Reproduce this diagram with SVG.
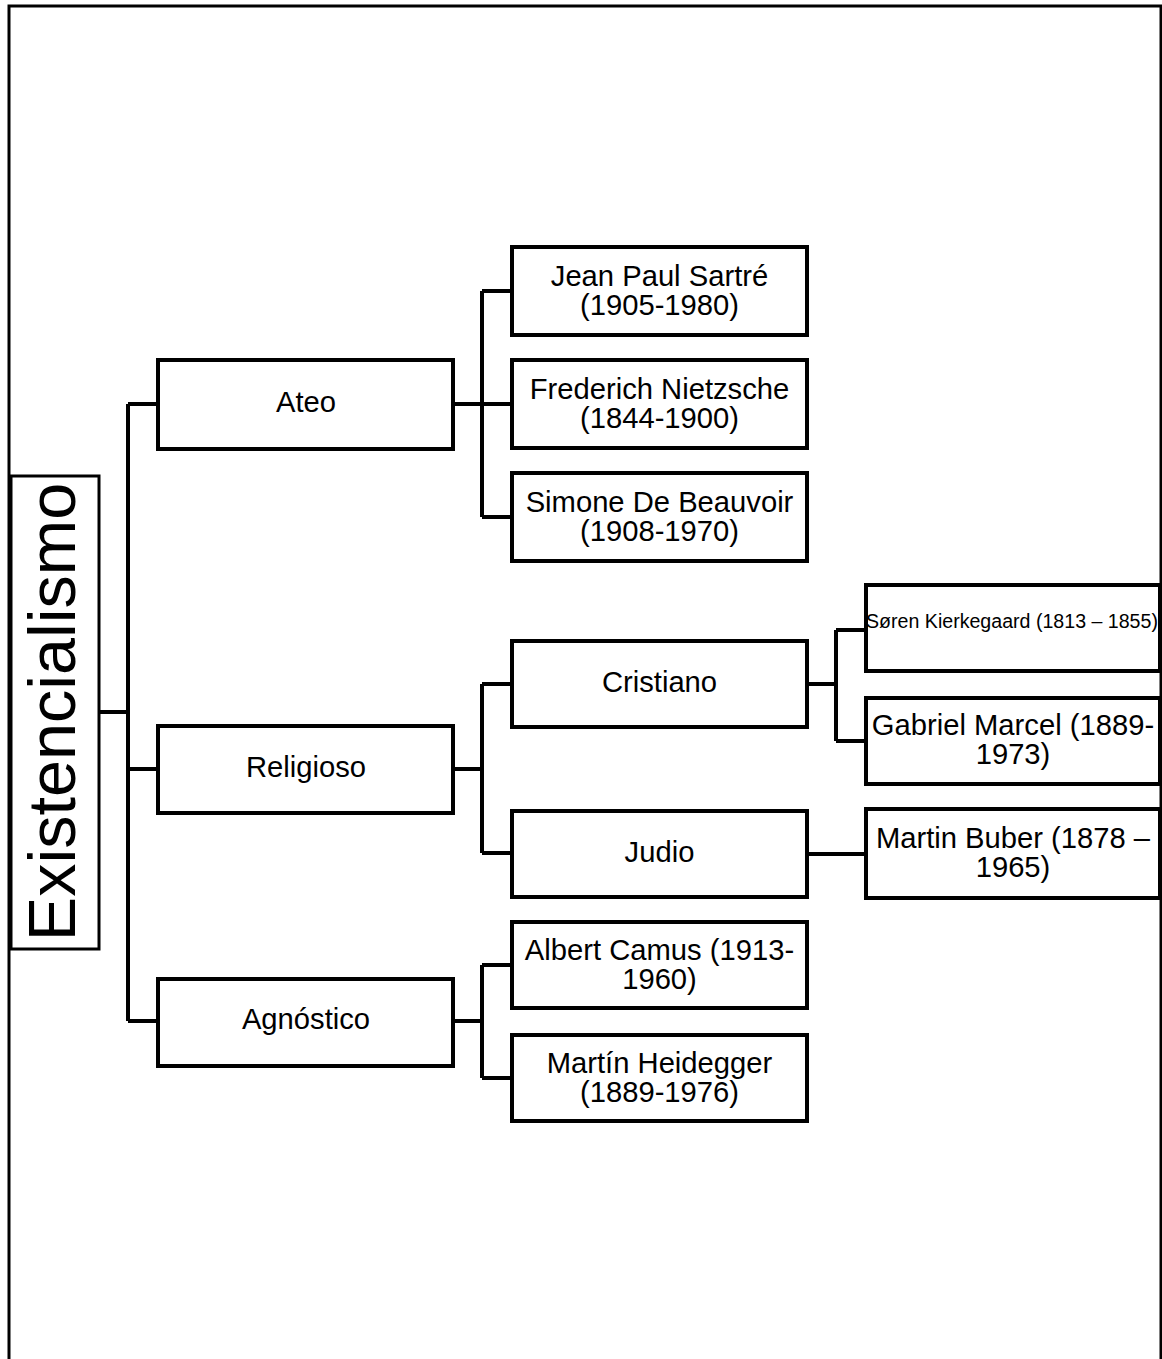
<svg xmlns="http://www.w3.org/2000/svg" width="1162" height="1359" viewBox="0 0 1162 1359">
<style>
.box{fill:#fff;stroke:#000;stroke-width:4}
.t{font-family:"Liberation Sans",Arial,sans-serif;font-size:29.2px;fill:#000;text-anchor:middle}
.s{font-family:"Liberation Sans",Arial,sans-serif;font-size:19.6px;fill:#000;text-anchor:middle}
.c{fill:none;stroke:#000;stroke-width:4}
</style>
<rect x="0" y="0" width="1162" height="1359" fill="#fff"/>
<rect x="9" y="6" width="1152" height="1400" fill="none" stroke="#000" stroke-width="3"/>
<g id="connectors" class="c">
<path d="M100 712H128M128 404V1021M128 404H158M128 769H158M128 1021H158"/>
<path d="M453 404H482M482 291V517M482 291H512M482 404H512M482 517H512"/>
<path d="M453 769H482M482 684V853M482 684H512M482 853H512"/>
<path d="M453 1021H482M482 965V1078M482 965H512M482 1078H512"/>
<path d="M807 684H836M836 630V741M836 630H866M836 741H866"/>
<path d="M807 854H866"/>
</g>
<g id="root">
<rect x="11" y="476" width="88" height="473" fill="#fff" stroke="#000" stroke-width="3"/>
<text transform="translate(75 712) rotate(-90)" font-family="Liberation Sans, Arial, sans-serif" font-size="66.5" text-anchor="middle">Existencialismo</text>
</g>
<g id="ateo"><rect class="box" x="158" y="360" width="295" height="89"/><text class="t" x="306" y="412">Ateo</text></g>
<g id="religioso"><rect class="box" x="158" y="726" width="295" height="87"/><text class="t" x="306" y="777">Religioso</text></g>
<g id="agnostico"><rect class="box" x="158" y="979" width="295" height="87"/><text class="t" x="306" y="1029">Agnóstico</text></g>
<g id="sartre"><rect class="box" x="512" y="247" width="295" height="88"/><text class="t" x="659.5" y="286">Jean Paul Sartré</text><text class="t" x="659.5" y="315">(1905-1980)</text></g>
<g id="nietzsche"><rect class="box" x="512" y="360" width="295" height="88"/><text class="t" x="659.5" y="399">Frederich Nietzsche</text><text class="t" x="659.5" y="428">(1844-1900)</text></g>
<g id="beauvoir"><rect class="box" x="512" y="473" width="295" height="88"/><text class="t" x="659.5" y="512">Simone De Beauvoir</text><text class="t" x="659.5" y="541">(1908-1970)</text></g>
<g id="cristiano"><rect class="box" x="512" y="641" width="295" height="86"/><text class="t" x="659.5" y="692">Cristiano</text></g>
<g id="judio"><rect class="box" x="512" y="811" width="295" height="86"/><text class="t" x="659.5" y="862">Judio</text></g>
<g id="camus"><rect class="box" x="512" y="922" width="295" height="86"/><text class="t" x="659.5" y="960">Albert Camus (1913-</text><text class="t" x="659.5" y="989">1960)</text></g>
<g id="heidegger"><rect class="box" x="512" y="1035" width="295" height="86"/><text class="t" x="659.5" y="1073">Martín Heidegger</text><text class="t" x="659.5" y="1102">(1889-1976)</text></g>
<g id="kierkegaard"><rect class="box" x="866" y="585" width="294" height="86"/><text class="s" x="1012" y="628">Søren Kierkegaard (1813 – 1855)</text></g>
<g id="marcel"><rect class="box" x="866" y="698" width="294" height="86"/><text class="t" x="1013" y="735">Gabriel Marcel (1889-</text><text class="t" x="1013" y="764">1973)</text></g>
<g id="buber"><rect class="box" x="866" y="809" width="294" height="89"/><text class="t" x="1013" y="848">Martin Buber (1878 –</text><text class="t" x="1013" y="877">1965)</text></g>
</svg>
